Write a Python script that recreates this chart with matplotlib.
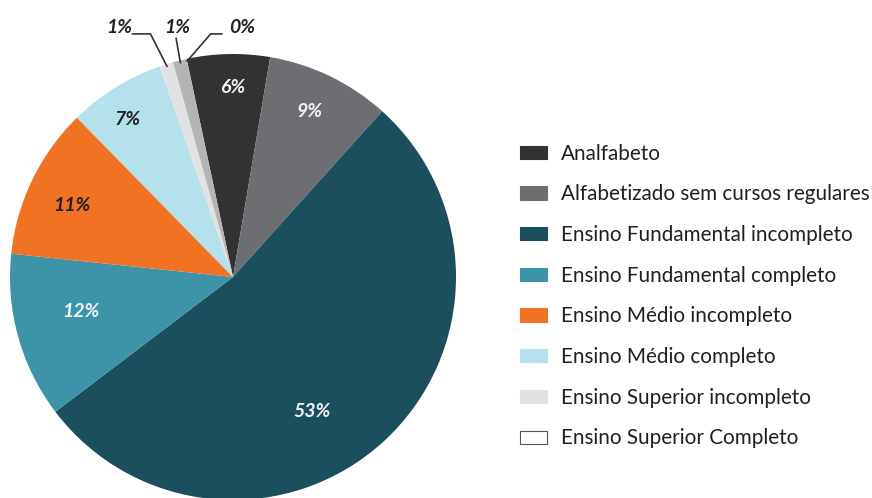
import numpy as np
import matplotlib.pyplot as plt
from matplotlib.patches import Patch

# slice data, clockwise from the top
categories = [
    "Analfabeto",
    "Alfabetizado sem cursos regulares",
    "Ensino Fundamental incompleto",
    "Ensino Fundamental completo",
    "Ensino Médio incompleto",
    "Ensino Médio completo",
    "Ensino Superior incompleto",
    "",  # small grey slice, not in the legend
    "Ensino Superior Completo",
]
values = [6, 9, 53, 12, 11, 7, 1, 1, 0]
labels = ["6%", "9%", "53%", "12%", "11%", "7%", "1%", "1%", "0%"]
colors = ["#333132", "#6d6e71", "#1b4f5e", "#3d93a8", "#f07222",
          "#b5e1ed", "#e1e2e3", "#b3b4b6", "#ffffff"]
label_colors = ["#f2f2f2", "#f2f2f2", "#f2f2f2", "#f2f2f2", "#222222",
                "#222222"]

plt.rcParams["font.family"] = ["Lato", "DejaVu Sans"]

fig = plt.figure(figsize=(8.72, 4.98), dpi=100)
ax = fig.add_axes([10 / 872, -2 / 498, 446 / 872, 446 / 498])

wedges, _ = ax.pie(values, colors=colors, startangle=102, counterclock=False,
                   radius=1, wedgeprops=dict(linewidth=0))
ax.set_xlim(-1, 1)
ax.set_ylim(-1, 1)
ax.set_aspect("equal")
ax.axis("off")

# inside labels: (radius, angle tweak in degrees)
label_pos = [(0.85, -1), (0.82, 1), (0.70, -12), (0.70, -3), (0.79, 2), (0.85, 2)]
for i, (r, dtheta) in enumerate(label_pos):
    w = wedges[i]
    ang = np.deg2rad((w.theta1 + w.theta2) / 2 + dtheta)
    ax.text(r * np.cos(ang), r * np.sin(ang), labels[i], ha="center", va="center",
            fontsize=14, fontweight="bold", style="italic", color=label_colors[i])

# leader lines for the tiny slices at the top
def leader(idx, text_xy, pts):
    w = wedges[idx]
    ang = np.deg2rad(w.theta1 if w.theta2 - w.theta1 < 0.01 else (w.theta1 + w.theta2) / 2)
    tip = (0.99 * np.cos(ang), 0.99 * np.sin(ang))
    xs = [p[0] for p in pts] + [tip[0]]
    ys = [p[1] for p in pts] + [tip[1]]
    ax.plot(xs, ys, color="#333333", lw=1.2, clip_on=False)
    ax.text(text_xy[0], text_xy[1], labels[idx], ha="center", va="center",
            fontsize=14, fontweight="bold", style="italic", color="#222222")

leader(6, (-0.51, 1.12), [(-0.45, 1.09), (-0.37, 1.09)])
leader(7, (-0.25, 1.12), [(-0.255, 1.07)])
leader(8, (0.04, 1.12), [(-0.05, 1.09), (-0.10, 1.09)])

handles = []
legend_labels = []
for c, name in zip(colors, categories):
    if not name:
        continue
    ec = "#555555" if c == "#ffffff" else c
    handles.append(Patch(facecolor=c, edgecolor=ec, linewidth=0.8))
    legend_labels.append(name)

fig.legend(handles, legend_labels, loc="upper left", bbox_to_anchor=(501 / 872, 373 / 498),
           frameon=False, fontsize=14.9, handlelength=1.3, handleheight=0.61,
           handletextpad=0.7, labelspacing=1.0, labelcolor="#231f20")

fig.savefig("out.png", dpi=100)
